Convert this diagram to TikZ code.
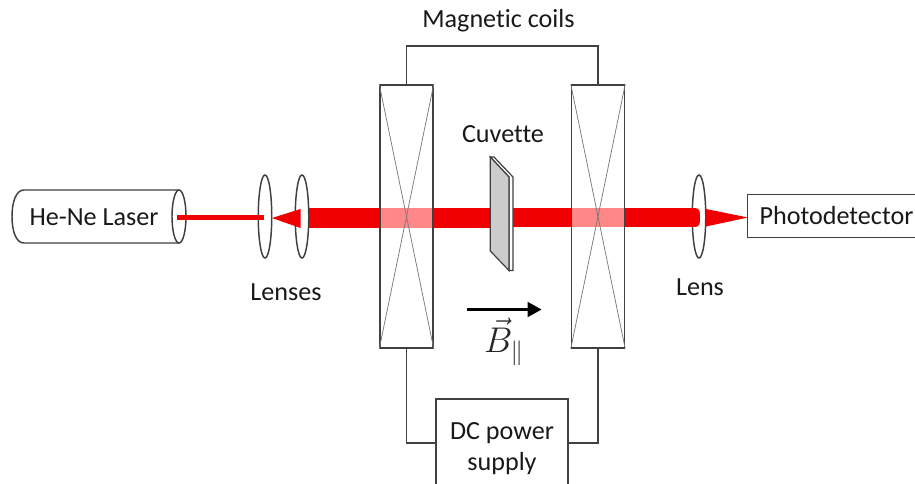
\documentclass[tikz,border=0pt]{standalone}
\usepackage{fontspec}
\setmainfont[Ligatures=CommonOff]{Carlito}
\usetikzlibrary{arrows.meta,shapes.geometric}
\def\px{0.75pt}
\definecolor{beamred}{RGB}{240,0,0}
\definecolor{beamlight}{RGB}{255,135,135}
\definecolor{ink}{RGB}{64,64,64}
\tikzset{
  label text/.style={font=\fontsize{19.6}{23}\selectfont, text=black!90, inner sep=0pt, align=center},
  outline/.style={draw=ink, line width=1.1pt},
  wire/.style={draw=ink, line width=1.1pt},
  coil/.style={outline, inner sep=0pt, minimum width=53*\px, minimum height=263*\px},
  cross line/.style={draw=ink!70, line width=0.55pt},
  lens/.style={shape=ellipse, outline, fill=white, inner sep=0pt, minimum width=13.5*\px, minimum height=83*\px},
  beam/.style={fill=beamred},
  beam soft/.style={fill=beamlight},
}
\begin{document}
\begin{tikzpicture}[x=0.75pt,y=-0.75pt]
\useasboundingbox (0,0) rectangle (915,483);
\clip (0,0) rectangle (915,483);
\fill[white] (0,0) rectangle (915,483);

% laser body
\draw[outline, fill=white] (179,190) -- (24,190)
  .. controls (16,190) and (12,202) .. (12,216.5)
  .. controls (12,231) and (16,243) .. (24,243) -- (179,243);
\node[shape=ellipse, outline, fill=white, inner sep=0pt, minimum width=14*\px, minimum height=53*\px] (laserend) at (179,216.5) {};
\node[label text] (laser) at (94,217) {He-Ne Laser};

% lenses
\node[lens] (lensA) at (265,216.5) {};
\node[lens] (lensB) at (302,216.5) {};
\node[lens] (lensC) at (699,216.5) {};

% beams
\fill[beam] (176.5,215.2) rectangle (264,219.8);
\fill[beam] (272,218) -- (300.5,209) -- (300.5,228) -- cycle;
\fill[beam] (309,207.5) rectangle (497,228);
\fill[beam] (497,207.5) .. controls (502,207.5) and (502.5,212) .. (502.5,217.7)
  .. controls (502.5,224) and (502,228) .. (497,228) -- cycle;
\fill[beam] (513,208) rectangle (695,227);
\fill[beam] (695,208) .. controls (700,208) and (700,212) .. (700,217.5)
  .. controls (700,223) and (700,227) .. (695,227) -- cycle;
\fill[beam] (706,209) -- (748,217.5) -- (706,226.5) -- cycle;
\fill[beam soft] (380,207.5) rectangle (433,228);
\fill[beam soft] (571,208) rectangle (625,227);

% coils
\node[coil] (coilA) at (406.5,216.5) {};
\node[coil] (coilB) at (598,216.5) {};
\draw[cross line] (coilA.north west) -- (coilA.south east);
\draw[cross line] (coilA.north east) -- (coilA.south west);
\draw[cross line] (coilB.north west) -- (coilB.south east);
\draw[cross line] (coilB.north east) -- (coilB.south west);

% cuvette
\draw[draw=ink, line width=0.9pt, fill=white] (490.3,157) -- (494,157) -- (513,177) -- (513,270.5) -- (509,270.5) -- (509,177) -- cycle;
\draw[draw=ink, line width=0.9pt, fill=black!20] (490.3,157) -- (509,177) -- (509,270.5) -- (490.3,251) -- cycle;

% labels and boxes
\node[label text] (coilsLabel) at (498.5,21) {Magnetic coils};
\node[label text] (cuvetteLabel) at (503,134) {Cuvette};
\node[label text] (lensesLabel) at (286,292) {Lenses};
\node[label text] (lensLabel) at (700,287) {Lens};
\node[label text, outline, fill=white, minimum width=178*\px, minimum height=43*\px] (detector) at (836.5,216) {Photodetector};
\node[label text, outline, fill=white, minimum width=132*\px, minimum height=88*\px] (power) at (502,443) {\rule{0pt}{21pt}DC power\\supply};

% wires
\coordinate (topLeft) at (406.5,46);
\coordinate (topRight) at (598,46);
\draw[wire] (coilA.north) -- (topLeft) -- (topRight) -- (coilB.north);
\draw[wire] (coilA.south) |- (power.west);
\draw[wire] (coilB.south) |- (power.east);

% field arrow
\coordinate (fieldStart) at (467,309.5);
\coordinate (fieldEnd) at (541.5,309.5);
\draw[line width=1.6pt, black, -{Triangle[length=14*\px,width=15*\px]}] (fieldStart) -- (fieldEnd);
\node[inner sep=0pt, text=black!85, scale=1.55, font=\fontsize{18}{22}\selectfont] (fieldLabel) at (504,342) {$\vec{B}_{\parallel}$};
\end{tikzpicture}
\end{document}
